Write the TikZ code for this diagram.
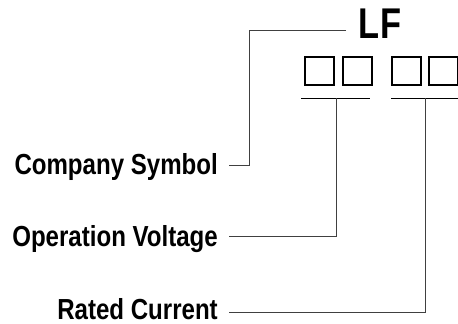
\documentclass[tikz,border=0pt]{standalone}
\usepackage{fontspec}
\setmainfont{Liberation Sans}[FakeStretch=0.83]
\newfontfamily\lffont[FakeStretch=0.8]{Liberation Sans}
\usepackage{tikz}
\usetikzlibrary{positioning}
\tikzset{digit/.style={draw,line width=2pt,minimum width=29pt,minimum height=28pt,inner sep=0pt},
lbl/.style={font=\fontsize{29}{31}\selectfont\bfseries,inner sep=0pt,anchor=base east},
lead/.style={draw=black!75,line width=1pt}}
\begin{document}
\begin{tikzpicture}[x=1pt,y=-1pt]
\useasboundingbox (0,0) rectangle (458,324);
\node[font=\lffont\fontsize{43}{45}\selectfont\bfseries,inner sep=0pt,anchor=base] (lf) at (380,38) {LF};
\node[digit] (d1) at (319.5,70.5) {};
\node[digit] (d2) at (357.5,70.5) {};
\node[digit] (d3) at (406.5,70.5) {};
\node[digit] (d4) at (443,70.5) {};
\coordinate (u1) at (336,98);
\coordinate (u2) at (425,98);
\draw[line width=1pt] (301,98) -- (370,98) (391,98) -- (458,98);
\node[lbl] (cs) at (218,174) {Company Symbol};
\node[lbl] (ov) at (218,246) {Operation Voltage};
\node[lbl] (rc) at (218,319) {Rated Current};
\path[lead] (346,30) -| (249,165) -- ([xshift=11pt]cs.east |- 0,165);
\path[lead] (u1) |- ([xshift=11pt]ov.east |- 0,236);
\path[lead] (u2) |- ([xshift=11pt]rc.east |- 0,312);
\end{tikzpicture}
\end{document}
